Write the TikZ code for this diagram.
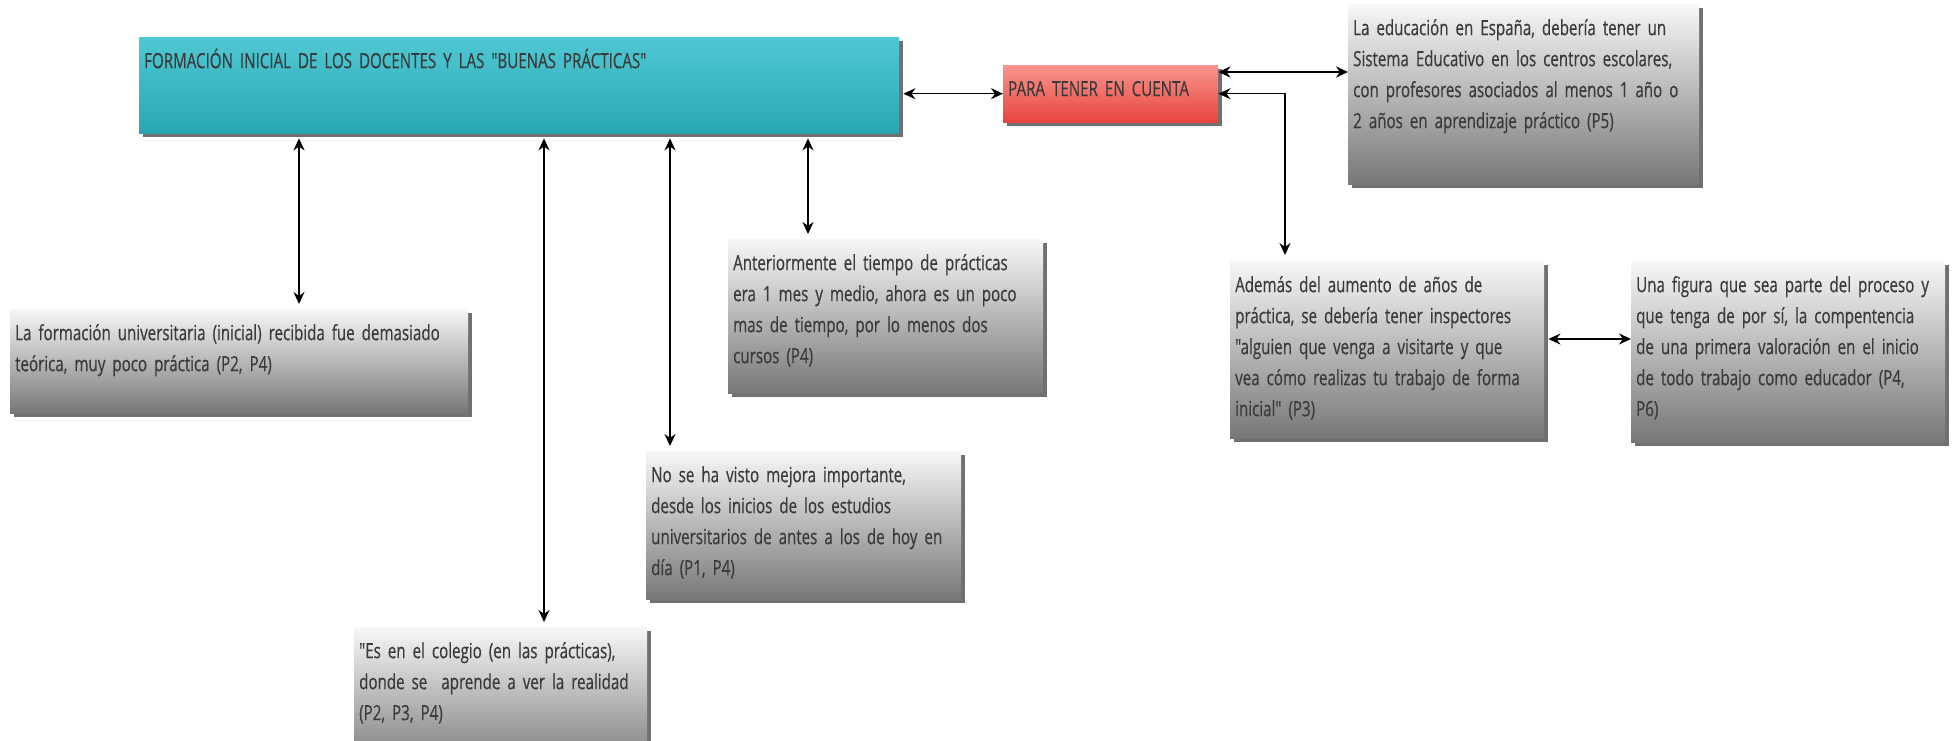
\documentclass[tikz,border=0pt]{standalone}
\usepackage{xcolor}
\usepackage{fontspec}
\setmainfont{Open Sans}[FakeStretch=0.72, FakeBold=0.4, WordSpace=0.8, Ligatures=TeXOff]
\usepackage{tikz}
\usetikzlibrary{arrows.meta,shadows}

\definecolor{txtgray}{HTML}{3A3A3A}
\definecolor{graytop}{HTML}{F7F7F7}
\definecolor{graybot}{HTML}{777777}
\definecolor{tealtop}{HTML}{50C8D3}
\definecolor{tealbot}{HTML}{28A7B3}
\definecolor{redtop}{HTML}{FA958E}
\definecolor{redbot}{HTML}{E8443F}

\begin{document}
\begin{tikzpicture}[x=1pt, y=-1pt,
  caja/.style 2 args={rectangle, anchor=north west, align=left,
                text width=#1, text height=24pt, text depth=#2,
                inner xsep=5pt, inner ysep=7pt,
                font=\fontsize{21}{31}\selectfont, text=txtgray,
                execute at begin node={\hyphenpenalty=10000\relax},
                top color=graytop, bottom color=graybot,
                drop shadow={shadow xshift=4pt, shadow yshift=-4pt,
                             fill=black!70, opacity=0.8}},
  teal/.style={top color=tealtop, bottom color=tealbot},
  rojo/.style={top color=redtop, bottom color=redbot},
  arrow/.style={{Stealth[length=12pt,width=11pt]}-{Stealth[length=12pt,width=11pt]},
                line width=1.6pt, black}
]
  \clip (0,0) rectangle (1952,741);

  % cajas principales
  \node[caja={750pt}{58pt}, teal] (form) at (139,37)
    {FORMACIÓN INICIAL DE LOS DOCENTES Y LAS "BUENAS PRÁCTICAS"};
  \node[caja={205pt}{19pt}, rojo] (para) at (1003,65) {PARA TENER EN CUENTA};

  % opiniones
  \node[caja={341pt}{142pt}] (espana) at (1348,4)
    {La educación en España, debería tener un\\
     Sistema Educativo en los centros escolares,\\
     \mbox{con profesores asociados al menos 1 año o}\\
     2 años en aprendizaje práctico (P5)};
  \node[caja={448pt}{66pt}] (teorica) at (10,309)
    {\mbox{La formación universitaria (inicial) recibida fue demasiado}\\
     teórica, muy poco práctica (P2, P4)};
  \node[caja={305pt}{116pt}] (tiempo) at (728,239)
    {Anteriormente el tiempo de prácticas\\
     era 1 mes y medio, ahora es un poco\\
     mas de tiempo, por lo menos dos\\
     cursos (P4)};
  \node[caja={305pt}{110pt}] (mejora) at (646,451)
    {No se ha visto mejora importante,\\
     desde los inicios de los estudios\\
     \mbox{universitarios de antes a los de hoy en}\\
     día (P1, P4)};
  \node[caja={283pt}{106pt}] (colegio) at (354,627)
    {"Es en el colegio (en las prácticas),\\
     \mbox{donde se~ aprende a ver la realidad}\\
     (P2, P3, P4)};
  \node[caja={304pt}{139pt}] (inspect) at (1230,261)
    {Además del aumento de años de\\
     práctica, se debería tener inspectores\\
     "alguien que venga a visitarte y que\\
     vea cómo realizas tu trabajo de forma\\
     inicial" (P3)};
  \node[caja={304pt}{143pt}] (figura) at (1631,261)
    {\mbox{Una figura que sea parte del proceso y}\\
     que tenga de por sí, la compentencia\\
     de una primera valoración en el inicio\\
     \mbox{de todo trabajo como educador (P4,}\\
     P6)};

  % columnas y filas de las flechas
  \coordinate (c1) at (299,0);
  \coordinate (c2) at (544,0);
  \coordinate (c3) at (670,0);
  \coordinate (c4) at (808,0);
  \coordinate (c5) at (1285,0);
  \coordinate (r1) at (0,72);
  \coordinate (r2) at (0,339);

  % Arrows
  \draw[arrow, shorten <=5pt, shorten >=5pt] (form.south -| c1) -- (teorica.north -| c1);
  \draw[arrow, shorten <=5pt, shorten >=5pt] (form.south -| c2) -- (colegio.north -| c2);
  \draw[arrow, shorten <=5pt, shorten >=5pt] (form.south -| c3) -- (mejora.north -| c3);
  \draw[arrow, shorten <=5pt, shorten >=5pt] (form.south -| c4) -- (tiempo.north -| c4);
  \draw[arrow, shorten <=4pt] (form.east |- para.west) -- (para.west);
  \draw[arrow] (para.east |- r1) -- (espana.west |- r1);
  \draw[arrow, shorten >=6pt] (para.east) -| (inspect.north -| c5);
  \draw[arrow, shorten <=4pt] (inspect.east |- r2) -- (figura.west |- r2);
\end{tikzpicture}
\end{document}
